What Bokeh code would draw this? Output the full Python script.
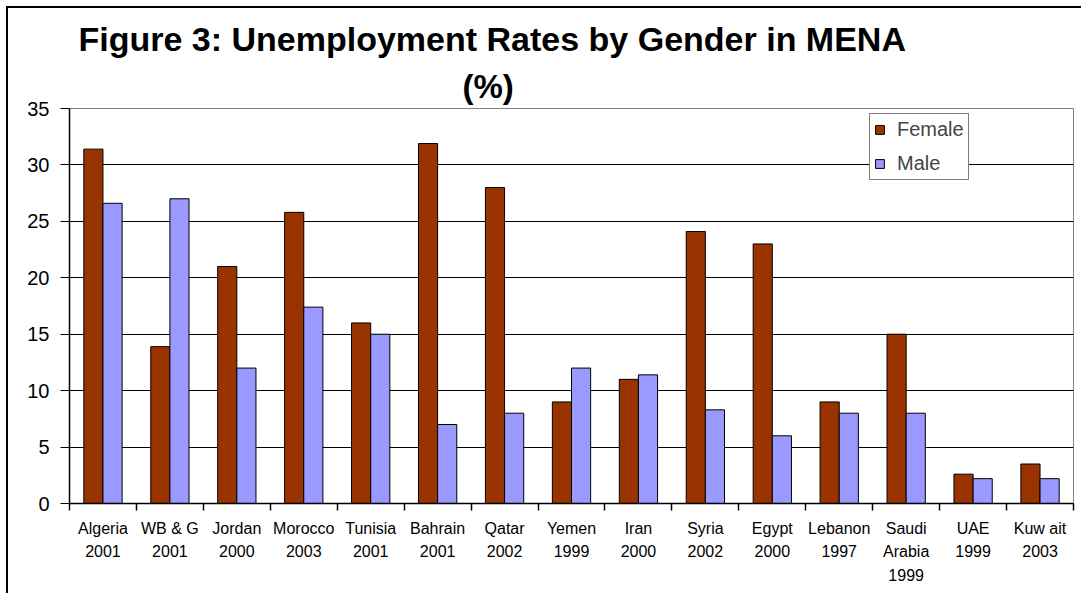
from bokeh.plotting import figure
from bokeh.models import (Range1d, LinearAxis, FixedTicker, Title, Legend, LegendItem,
                          ColumnDataSource)
from bokeh.transform import dodge
from bokeh.embed import file_html
from bokeh.resources import INLINE

# ---- data ----
countries = ["Algeria", "WB & G", "Jordan", "Morocco", "Tunisia", "Bahrain", "Qatar", "Yemen",
             "Iran", "Syria", "Egypt", "Lebanon", "Saudi\nArabia", "UAE", "Kuw ait"]
years = ["2001", "2001", "2000", "2003", "2001", "2001", "2002", "1999",
         "2000", "2002", "2000", "1997", "1999", "1999", "2003"]
female = [31.4, 13.9, 21.0, 25.8, 16.0, 31.9, 28.0, 9.0, 11.0, 24.1, 23.0, 9.0, 15.0, 2.6, 3.5]
male = [26.6, 27.0, 12.0, 17.4, 15.0, 7.0, 8.0, 12.0, 11.4, 8.3, 6.0, 8.0, 8.0, 2.2, 2.2]
y_ticks = [0, 5, 10, 15, 20, 25, 30, 35]

FONT = "Liberation Sans"
n = len(countries)
labels = [f"{c}\n{y}" for c, y in zip(countries, years)]
centers = [i + 0.5 for i in range(n)]          # category slot centres
bounds = list(range(n + 1))                    # category slot boundaries
src = ColumnDataSource(dict(x=centers, female=female, male=male))

p = figure(width=1075, height=587, x_range=Range1d(0, n), y_range=Range1d(0, 35),
           output_backend="svg", toolbar_location=None, x_axis_location=None, title=None,
           min_border_left=61, min_border_right=10, min_border_top=100, min_border_bottom=92)

p.background_fill_color = "white"
p.border_fill_color = "white"
p.outline_line_color = "#808080"
p.outline_line_width = 1

bw = 0.286
rf = p.vbar(x=dodge("x", -bw / 2), top="female", width=bw, source=src,
            fill_color="#993300", line_color="black", line_width=1)
rm = p.vbar(x=dodge("x", bw / 2), top="male", width=bw, source=src,
            fill_color="#9999FF", line_color="black", line_width=1)

# grid
p.xgrid.visible = False
p.ygrid.ticker = FixedTicker(ticks=y_ticks[1:-1])
p.ygrid.grid_line_color = "black"
p.ygrid.grid_line_width = 1

# y axis
ya = p.yaxis[0]
ya.ticker = FixedTicker(ticks=y_ticks)
ya.minor_tick_line_color = None
ya.major_tick_out = 9
ya.major_tick_in = 0
ya.major_label_standoff = 11
ya.major_label_text_font = FONT
ya.major_label_text_font_size = "20px"
ya.major_label_text_color = "black"
ya.axis_line_color = "black"
ya.axis_line_width = 1.5
ya.major_tick_line_color = "black"

# category axis: labels at slot centres, tick marks at slot boundaries (minor ticks)
ca = LinearAxis(ticker=FixedTicker(ticks=centers, minor_ticks=bounds),
                major_label_overrides={c: l for c, l in zip(centers, labels)},
                major_tick_out=7, major_tick_in=0, major_tick_line_color=None,
                minor_tick_out=7, minor_tick_in=0, minor_tick_line_color="black",
                minor_tick_line_width=1.5,
                axis_line_color="black", axis_line_width=1.5, major_label_standoff=9,
                major_label_text_font=FONT, major_label_text_font_size="16px",
                major_label_text_color="black", major_label_text_line_height=1.4)
p.add_layout(ca, "below")

# titles
t2 = Title(text="(%)", text_font=FONT, text_font_size="33px", text_font_style="bold",
           align="left", offset=393, standoff=7, text_color="black")
t1 = Title(text="Figure 3: Unemployment Rates by Gender  in MENA", text_font=FONT,
           text_font_size="34px", text_font_style="bold", align="left", offset=9,
           standoff=10, text_color="black")
p.add_layout(t2, "above")
p.add_layout(t1, "above")

legend = Legend(items=[LegendItem(label="Female", renderers=[rf]),
                       LegendItem(label="Male", renderers=[rm])],
                location=(800, 323), border_line_color="black", border_line_width=1.5,
                label_text_font=FONT, label_text_font_size="20px", glyph_width=11,
                glyph_height=11, label_standoff=12, padding=4, spacing=11, margin=0,
                label_height=20, background_fill_color="white", background_fill_alpha=1)
p.add_layout(legend)

p.styles = {"border-top": "2px solid black", "border-left": "2px solid black",
            "margin-left": "6px", "margin-top": "6px"}

open("out.html", "w").write(file_html(p, INLINE))
